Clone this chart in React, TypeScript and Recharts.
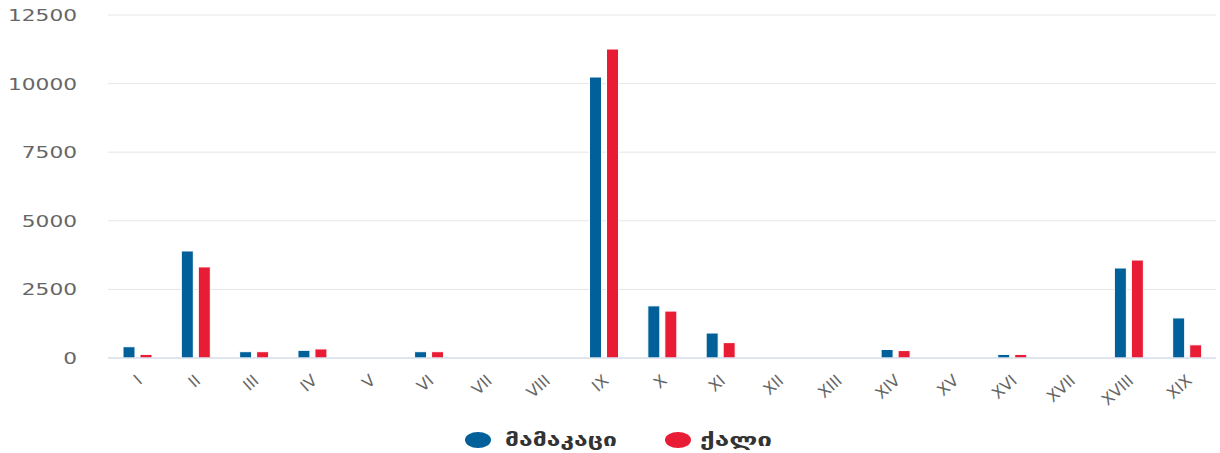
import React from "react";
import { BarChart, Bar, XAxis, YAxis, CartesianGrid, Legend } from "recharts";

const categories = ["I", "II", "III", "IV", "V", "VI", "VII", "VIII", "IX", "X", "XI", "XII", "XIII", "XIV", "XV", "XVI", "XVII", "XVIII", "XIX"];
const maleValues = [410, 3900, 230, 280, 0, 230, 0, 0, 10240, 1900, 910, 0, 0, 310, 0, 130, 0, 3280, 1460];
const femaleValues = [130, 3320, 230, 330, 0, 230, 0, 0, 11260, 1710, 560, 0, 0, 270, 0, 130, 0, 3570, 480];
const yTicks = [0, 2500, 5000, 7500, 10000, 12500];
const seriesNames = ["მამაკაცი", "ქალი"];
const colors = ["#01609a", "#e91c35"];

const data = categories.map((c, i) => ({ name: c, male: maleValues[i], female: femaleValues[i] }));

const YTick = (props: any) => {
  const { x, y, payload } = props;
  const s = String(payload.value);
  return (
    <text x={x} y={y} dy={6} textAnchor="end" fill="#666666" fontSize={16} fontFamily="DejaVu Sans" textLength={s.length * 13.8} lengthAdjust="spacingAndGlyphs">
      {s}
    </text>
  );
};

const XTick = (props: any) => {
  const { x, y, payload } = props;
  const ax = x + 6;
  const ay = y + 16;
  return (
    <text x={ax} y={ay} textAnchor="end" fill="#666666" fontSize={16} fontFamily="DejaVu Sans" transform={`rotate(-42, ${ax}, ${ay})`}>
      {payload.value}
    </text>
  );
};

const LegendContent = () => (
  <svg width={1220} height={40} style={{ display: "block" }}>
    <ellipse cx={478} cy={27} rx={13} ry={8} fill={colors[0]} />
    <text x={505} y={33} fontSize={17} fontWeight="bold" fill="#333333" fontFamily="DejaVu Sans" textLength={112} lengthAdjust="spacingAndGlyphs">
      {seriesNames[0]}
    </text>
    <ellipse cx={678} cy={27} rx={13} ry={8} fill={colors[1]} />
    <text x={700} y={33} fontSize={17} fontWeight="bold" fill="#333333" fontFamily="DejaVu Sans" textLength={72} lengthAdjust="spacingAndGlyphs">
      {seriesNames[1]}
    </text>
  </svg>
);

export default function App() {
  return (
    <div style={{ position: "absolute", left: 0, top: 0, width: 1220, height: 453, background: "#fff" }}>
      <BarChart width={1220} height={453} data={data} margin={{ top: 15, right: 4, left: 0, bottom: 0 }} barSize={12} barGap={5}>
        <CartesianGrid vertical={false} stroke="#e6e6e6" />
        <XAxis dataKey="name" interval={0} tick={<XTick />} tickLine={false} axisLine={{ stroke: "#ccd6eb" }} height={55} />
        <YAxis domain={[0, 12500]} ticks={yTicks} width={108} tick={<YTick />} tickLine={false} axisLine={false} tickSize={0} tickMargin={31} />
        <Legend verticalAlign="bottom" height={40} content={<LegendContent />} wrapperStyle={{ left: 0, width: 1220 }} />
        <Bar dataKey="male" name={seriesNames[0]} fill={colors[0]} stroke="#ffffff" strokeWidth={1} isAnimationActive={false} />
        <Bar dataKey="female" name={seriesNames[1]} fill={colors[1]} stroke="#ffffff" strokeWidth={1} isAnimationActive={false} />
      </BarChart>
    </div>
  );
}
